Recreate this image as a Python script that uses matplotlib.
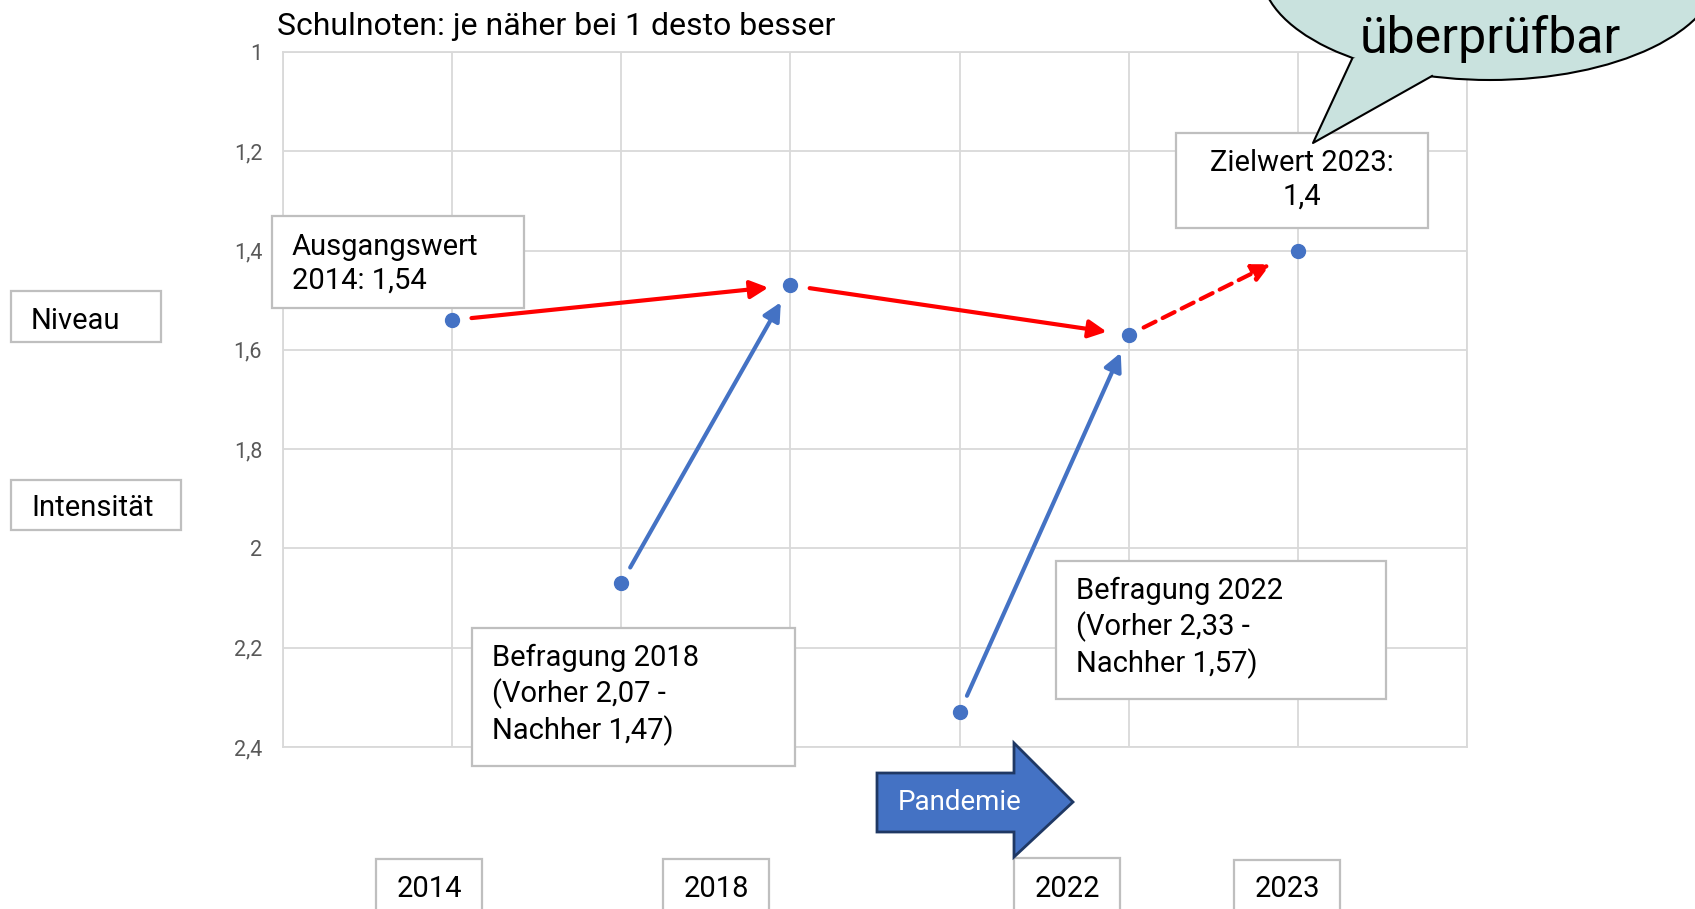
import matplotlib.pyplot as plt
from matplotlib.patches import Rectangle, Ellipse, Polygon
from matplotlib.lines import Line2D

W, H = 1695, 909

# Daten
positionen = [1, 2, 3, 4, 5, 6]
noten = [1.54, 2.07, 1.47, 2.33, 1.57, 1.40]
y_ticks = [1.0, 1.2, 1.4, 1.6, 1.8, 2.0, 2.2, 2.4]
jahre = ["2014", "2018", "2022", "2023"]
niveau_pfeile = [(0, 2), (2, 4)]
ziel_pfeil = (4, 5)
intensitaet_pfeile = [(1, 2), (3, 4)]

BLAU = "#4472C4"
ROT = "#FF0000"
GRAU = "#D9D9D9"
RAHMEN = "#BFBFBF"

plt.rcParams["font.family"] = ["Roboto", "DejaVu Sans"]


def komma(v):
    return f"{round(v, 2):g}".replace(".", ",")


def fx(x):
    return x / W


def fy(y):
    return 1 - y / H


fig = plt.figure(figsize=(W / 100, H / 100), dpi=100)
ax = fig.add_axes([fx(283), fy(747), (1467 - 283) / W, (747 - 52) / H])

ax.set_xlim(0, 7)
ax.set_ylim(2.4, 1.0)
ax.set_xticks(range(8))
ax.set_xticklabels([])
ax.set_yticks(y_ticks)
ax.set_yticklabels([komma(t) for t in y_ticks], color="#595959", fontsize=15.5)
ax.tick_params(length=0, pad=15)
ax.grid(True, color=GRAU, lw=1.3)
for s in ax.spines.values():
    s.set_color(GRAU)
    s.set_linewidth(1.3)
ax.set_axisbelow(True)

ax.plot(positionen, noten, "o", color=BLAU, ms=10, ls="none", zorder=5)

kopf = "-|>,head_length=0.6,head_width=0.3"
for a, b in niveau_pfeile:
    ax.annotate("", xy=(positionen[b], noten[b]), xytext=(positionen[a], noten[a]),
                arrowprops=dict(arrowstyle=kopf, color=ROT, lw=3,
                                shrinkA=14, shrinkB=16, mutation_scale=18))
a, b = ziel_pfeil
ax.annotate("", xy=(positionen[b], noten[b]), xytext=(positionen[a], noten[a]),
            arrowprops=dict(arrowstyle=kopf, color=ROT, lw=3, ls=(0, (3.2, 1.9)),
                            shrinkA=12, shrinkB=22, mutation_scale=18))
for a, b in intensitaet_pfeile:
    ax.annotate("", xy=(positionen[b], noten[b]), xytext=(positionen[a], noten[a]),
                arrowprops=dict(arrowstyle=kopf, color=BLAU, lw=3,
                                shrinkA=13, shrinkB=14, mutation_scale=18))


def kasten(x0, y0, x1, y1):
    fig.add_artist(Rectangle((fx(x0), fy(y1)), (x1 - x0) / W, (y1 - y0) / H,
                             transform=fig.transFigure, fc="white", ec=RAHMEN,
                             lw=1.6, zorder=2))


def text(x, y, s, ha="left", **kw):
    kw.setdefault("fontsize", 21)
    fig.text(fx(x), fy(y), s, ha=ha, va="center", linespacing=1.27, zorder=4, **kw)


fig.text(fx(277), fy(35), "Schulnoten: je näher bei 1 desto besser",
         fontsize=23, va="baseline")

kasten(272, 216, 524, 308)
text(292, 264, f"Ausgangswert\n2014: {komma(noten[0])}")

kasten(1176, 133, 1428, 228)
text(1302, 180, f"Zielwert 2023:\n{komma(noten[5])}", ha="center", multialignment="center")

kasten(472, 628, 795, 766)
text(492, 695, f"Befragung 2018\n(Vorher {komma(noten[1])} -\nNachher {komma(noten[2])})")

kasten(1056, 561, 1386, 699)
text(1076, 628, f"Befragung 2022\n(Vorher {komma(noten[3])} -\nNachher {komma(noten[4])})")

kasten(11, 291, 161, 342)
text(31, 321, "Niveau")
kasten(11, 480, 181, 530)
text(31, 508, "Intensität")

for jahr, (x0, y0) in zip(jahre, [(376, 859), (663, 859), (1014, 858), (1234, 860)]):
    kasten(x0, y0, x0 + 106, 930)
    text(x0 + 53, 889, jahr, ha="center")

# Pandemie-Pfeil
pfeil = [(877, 773), (1014, 773), (1014, 743), (1073, 802), (1014, 857), (1014, 832), (877, 832)]
fig.add_artist(Polygon([(fx(x), fy(y)) for x, y in pfeil], closed=True,
                       transform=fig.transFigure, fc=BLAU, ec="#1F3864", lw=2, zorder=2))
text(898, 802, "Pandemie", color="white", fontsize=20)

# Sprechblase
BLASE = "#C9E2DE"
fig.add_artist(Ellipse((fx(1490), fy(-30)), 458 / W, 220 / H, transform=fig.transFigure,
                       fc=BLASE, ec="black", lw=1.5, zorder=2))
spitze = [(1352, 59), (1313, 143), (1432, 76)]
fig.add_artist(Polygon([(fx(x), fy(y)) for x, y in spitze + [(1400, 40)]], closed=True,
                       transform=fig.transFigure, fc=BLASE, ec="none", zorder=2.5))
fig.add_artist(Line2D([fx(x) for x, y in spitze], [fy(y) for x, y in spitze],
                      transform=fig.transFigure, color="black", lw=1.5, zorder=2.6))
fig.text(fx(1490), fy(53), "überprüfbar", fontsize=36, ha="center", va="baseline", zorder=4)

fig.savefig("out.png", dpi=100)
